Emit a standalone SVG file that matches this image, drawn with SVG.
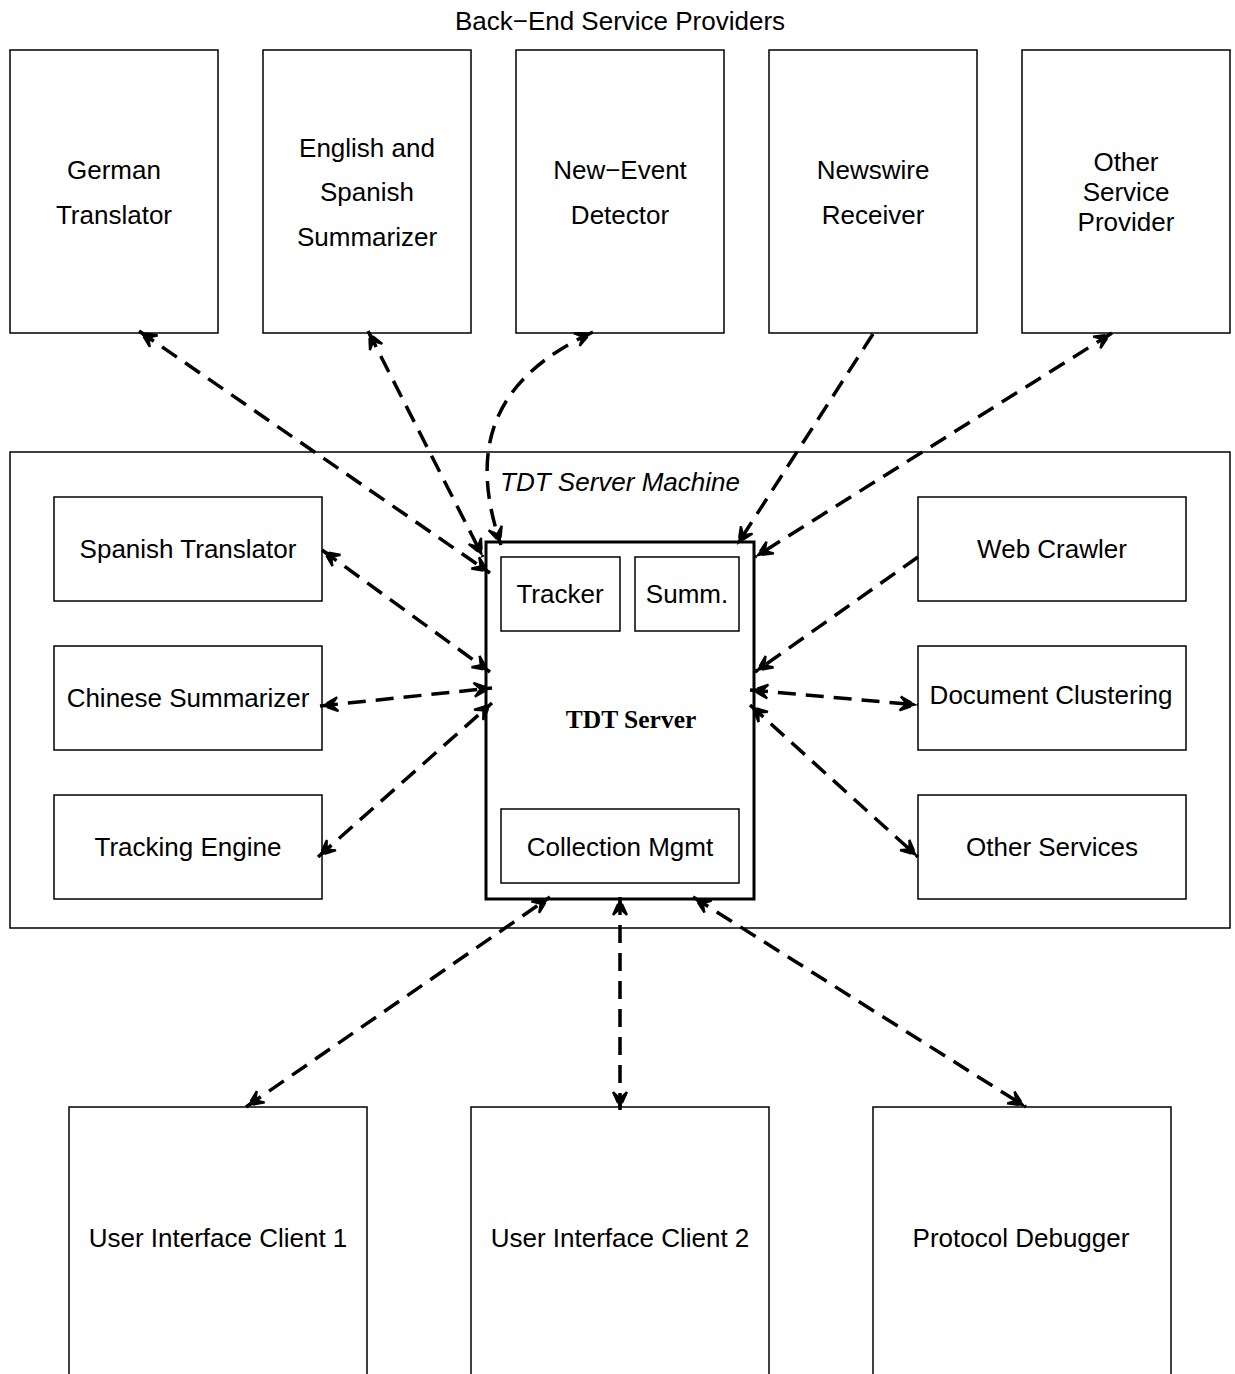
<svg xmlns="http://www.w3.org/2000/svg" width="1235" height="1374" viewBox="0 0 1235 1374">
<style>
.box{fill:#fff;stroke:#000;stroke-width:1.5}
.thick{fill:#fff;stroke:#000;stroke-width:3}
.t{font-family:"Liberation Sans",Arial,sans-serif;font-size:26px;text-anchor:middle;fill:#000}
.it{font-style:italic}
.srv{font-family:"Liberation Serif","Times New Roman",serif;font-weight:bold;font-size:25.5px;text-anchor:middle}
.c{fill:none;stroke:#000;stroke-width:3.5;stroke-dasharray:18 10}
.b{marker-start:url(#ah);marker-end:url(#ah)}
.e{marker-end:url(#ah)}
</style>
<defs>
<marker id="ah" viewBox="-20 -8 21 16" refX="0" refY="0" markerWidth="21" markerHeight="16" markerUnits="userSpaceOnUse" orient="auto-start-reverse" overflow="visible">
<path d="M0,0 L-19,-6.5 L-13,0 L-19,6.5 Z" fill="#000"/>
<path d="M-7,-2 L-18,-7 M-7,2 L-18,7" stroke="#000" stroke-width="2.2" fill="none"/>
</marker>
</defs>
<text class="t" x="620" y="30">Back−End Service Providers</text>
<g id="german"><rect class="box" x="10" y="50" width="208" height="283"/><text class="t" x="114" y="179">German</text><text class="t" x="114" y="224">Translator</text></g>
<g id="eng-spa"><rect class="box" x="263" y="50" width="208" height="283"/><text class="t" x="367" y="157">English and</text><text class="t" x="367" y="201">Spanish</text><text class="t" x="367" y="246">Summarizer</text></g>
<g id="ned"><rect class="box" x="516" y="50" width="208" height="283"/><text class="t" x="620" y="179">New−Event</text><text class="t" x="620" y="224">Detector</text></g>
<g id="newswire"><rect class="box" x="769" y="50" width="208" height="283"/><text class="t" x="873" y="179">Newswire</text><text class="t" x="873" y="224">Receiver</text></g>
<g id="other-sp"><rect class="box" x="1022" y="50" width="208" height="283"/><text class="t" x="1126" y="171">Other</text><text class="t" x="1126" y="201">Service</text><text class="t" x="1126" y="231">Provider</text></g>
<g id="machine"><rect class="box" x="10" y="452" width="1220" height="476"/><text class="t it" x="620" y="491">TDT Server Machine</text></g>
<g id="spa-tr"><rect class="box" x="54" y="497" width="268" height="104"/><text class="t" x="188" y="558">Spanish Translator</text></g>
<g id="chi-sum"><rect class="box" x="54" y="646" width="268" height="104"/><text class="t" x="188" y="707">Chinese Summarizer</text></g>
<g id="track-eng"><rect class="box" x="54" y="795" width="268" height="104"/><text class="t" x="188" y="856">Tracking Engine</text></g>
<g id="web-crawler"><rect class="box" x="918" y="497" width="268" height="104"/><text class="t" x="1052" y="558">Web Crawler</text></g>
<g id="doc-clust"><rect class="box" x="918" y="646" width="268" height="104"/><text class="t" x="1051" y="704">Document Clustering</text></g>
<g id="other-svc"><rect class="box" x="918" y="795" width="268" height="104"/><text class="t" x="1052" y="856">Other Services</text></g>
<g id="server"><rect class="thick" x="486" y="542" width="268" height="357"/><text class="srv" x="631" y="728">TDT Server</text>
<rect class="box" x="501" y="557" width="119" height="74"/><text class="t" x="560" y="603">Tracker</text>
<rect class="box" x="635" y="557" width="104" height="74"/><text class="t" x="687" y="603">Summ.</text>
<rect class="box" x="501" y="809" width="238" height="74"/><text class="t" x="620" y="856">Collection Mgmt</text></g>
<g id="ui1"><rect class="box" x="69" y="1107" width="298" height="280"/><text class="t" x="218" y="1247">User Interface Client 1</text></g>
<g id="ui2"><rect class="box" x="471" y="1107" width="298" height="280"/><text class="t" x="620" y="1247">User Interface Client 2</text></g>
<g id="debugger"><rect class="box" x="873" y="1107" width="298" height="280"/><text class="t" x="1021" y="1247">Protocol Debugger</text></g>
<g id="connectors">
<path class="c b" d="M139,331 L490,573"/>
<path class="c b" d="M368,331 L483,557"/>
<path class="c b" d="M593,332 C500,375 465,440 501,545"/>
<path class="c e" d="M873,334 L737,545"/>
<path class="c b" d="M1112,333 L755,557"/>
<path class="c b" d="M322,550 L490,672"/>
<path class="c b" d="M320,706 L492,688"/>
<path class="c b" d="M318,857 L492,703"/>
<path class="c e" d="M918,557 L755,672"/>
<path class="c b" d="M750,690 L918,705"/>
<path class="c b" d="M750,705 L918,857"/>
<path class="c b" d="M246,1107 L550,897"/>
<path class="c b" d="M620,897 L620,1110"/>
<path class="c b" d="M693,897 L1026,1107"/>
</g>
</svg>
